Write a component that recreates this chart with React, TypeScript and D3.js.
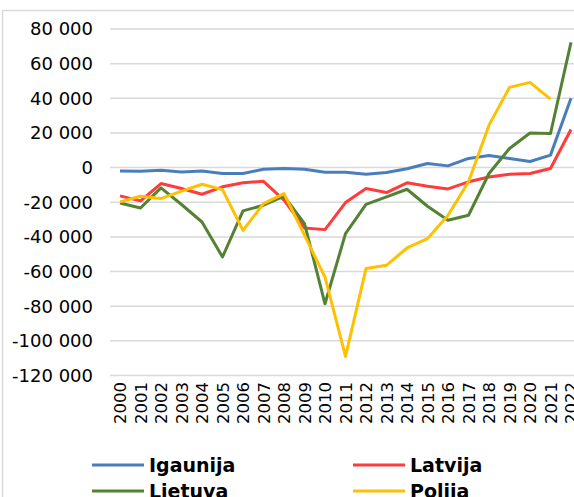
import React from 'react'
import * as d3 from 'd3'

const years = d3.range(2000, 2023).map(String)
const yTicks = [80000, 60000, 40000, 20000, 0, -20000, -40000, -60000, -80000, -100000, -120000]

const igaunija = [-1900, -2100, -1500, -2500, -1900, -3400, -3400, -900, -500, -900, -2700, -2700, -3800, -2800, -700, 2400, 1000, 5300, 7000, 5300, 3500, 7200, 40000]
const latvija = [-16300, -19200, -9200, -12100, -15400, -11100, -8800, -7900, -18800, -34800, -35800, -20200, -12100, -14400, -8800, -10800, -12300, -8200, -5400, -3800, -3400, -500, 22000]
const lietuva = [-20400, -23300, -11700, -21300, -31400, -51600, -25000, -21700, -16500, -32300, -78600, -38100, -21200, -16900, -12500, -22300, -30400, -27500, -3400, 11000, 20000, 19700, 72300]
const polija = [-19800, -16500, -17900, -13600, -9600, -12700, -36200, -20800, -15000, -39000, -63200, -109000, -58300, -56400, -46400, -41000, -27500, -8200, 24500, 46300, 49200, 39500, null]

const series = [
  { name: 'Igaunija', color: '#4a7ebb', values: igaunija },
  { name: 'Latvija', color: '#ff3b3b', values: latvija },
  { name: 'Lietuva', color: '#548235', values: lietuva },
  { name: 'Polija', color: '#ffc000', values: polija },
]

const W = 574
const H = 497
const font = 'DejaVu Sans, Verdana, sans-serif'

const fmt = (v: number) => {
  const s = d3.format(',')(Math.abs(v)).replace(/,/g, '\u00a0')
  return (v < 0 ? '-' : '') + s
}

export default function App() {
  const x = d3.scaleBand().domain(years).range([109.75, 109.75 + 20.5 * years.length]).paddingInner(0).paddingOuter(0)
  const y = d3.scaleLinear().domain([-120000, 80000]).range([375.5, 29])
  const cx = (yr: string) => (x(yr) as number) + x.bandwidth() / 2

  const line = d3.line<number | null>()
    .defined((d) => d != null)
    .x((_, i) => cx(years[i]))
    .y((d) => y(d as number))

  return (
    <svg width={W} height={H} style={{ position: 'absolute', left: 0, top: 0, background: '#fff' }} fontFamily={font}>
      {/* chart frame, cut on right and bottom */}
      <rect x={2.5} y={10.5} width={W + 20} height={H + 20} fill="#fff" stroke="#d9d9d9" strokeWidth={1.5} />

      {/* gridlines */}
      {yTicks.map((t) => (
        <line key={t} x1={110} x2={W + 10} y1={y(t)} y2={y(t)} stroke="#d9d9d9" strokeWidth={1.5} />
      ))}

      {/* y labels */}
      {yTicks.map((t) => (
        <text key={'l' + t} x={93} y={y(t)} dy="0.36em" textAnchor="end" fontSize={18} fill="#000">
          {fmt(t)}
        </text>
      ))}

      {/* x labels */}
      {years.map((yr) => (
        <text key={yr} transform={`translate(${cx(yr) + 6},${382}) rotate(-90)`} textAnchor="end" fontSize={16.5} fill="#000">
          {yr}
        </text>
      ))}

      {/* series */}
      {series.map((s) => (
        <path key={s.name} d={line(s.values) || ''} fill="none" stroke={s.color} strokeWidth={3} strokeLinejoin="round" />
      ))}

      {/* legend */}
      {series.map((s, i) => {
        const lx = i % 2 === 0 ? 92 : 353
        const ly = 465 + Math.floor(i / 2) * 26
        return (
          <g key={'lg' + s.name} transform={`translate(${lx},${ly})`}>
            <line x1={0} x2={52} y1={0} y2={0} stroke={s.color} strokeWidth={3} />
            <text x={57} y={0} dy="0.35em" fontSize={19} fontWeight="bold" fill="#000">
              {s.name}
            </text>
          </g>
        )
      })}
    </svg>
  )
}
